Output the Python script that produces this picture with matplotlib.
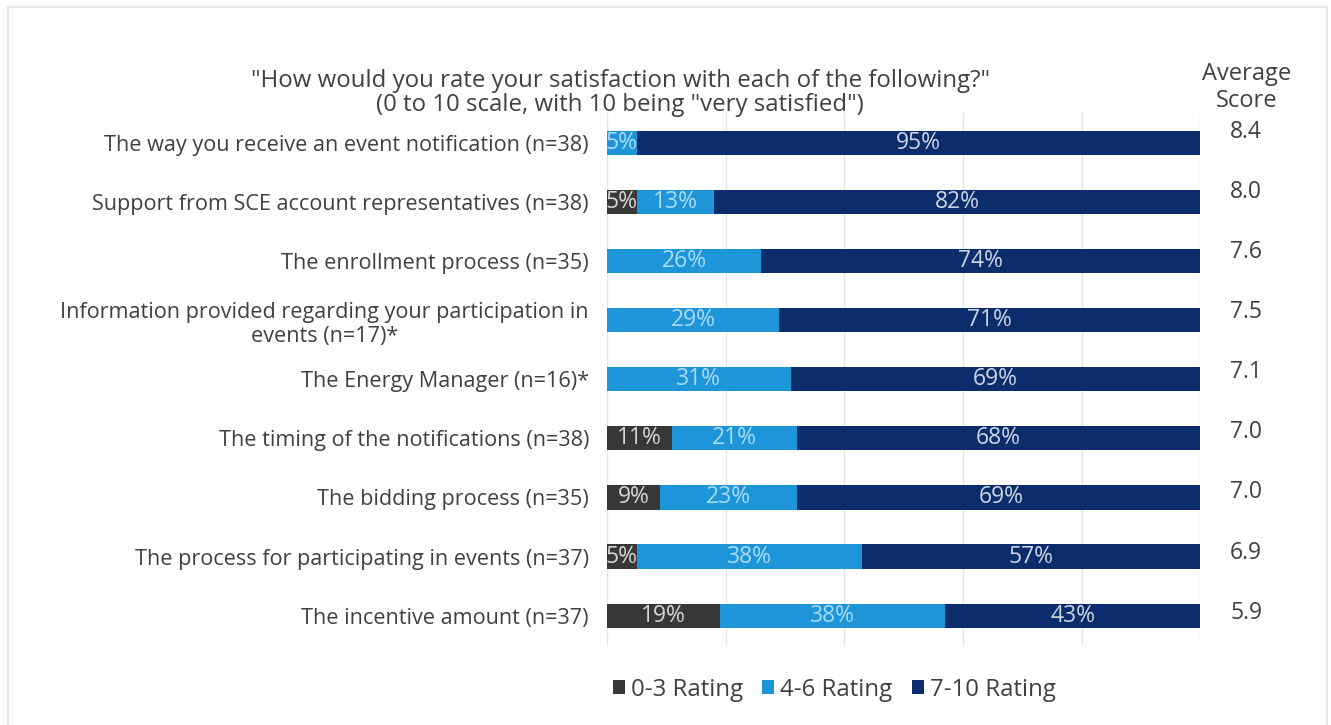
import matplotlib.pyplot as plt
from matplotlib.patches import Rectangle

# Survey items (top to bottom)
items = [
    "The way you receive an event notification (n=38)",
    "Support from SCE account representatives (n=38)",
    "The enrollment process (n=35)",
    "Information provided regarding your participation in\nevents (n=17)*",
    "The Energy Manager (n=16)*",
    "The timing of the notifications (n=38)",
    "The bidding process (n=35)",
    "The process for participating in events (n=37)",
    "The incentive amount (n=37)",
]

low = [0, 5, 0, 0, 0, 11, 9, 5, 19]       # 0-3 rating
mid = [5, 13, 26, 29, 31, 21, 23, 38, 38]  # 4-6 rating
high = [95, 82, 74, 71, 69, 68, 69, 57, 43]  # 7-10 rating
avg_score = [8.4, 8.0, 7.6, 7.5, 7.1, 7.0, 7.0, 6.9, 5.9]

series_names = ["0-3 Rating", "4-6 Rating", "7-10 Rating"]
colors = ["#383838", "#1d95d8", "#0c2d6b"]
label_colors = ["#d6d6d6", "#a9dcf5", "#cdd5e4"]
text_col = "#404040"

plt.rcParams['font.family'] = ['Open Sans', 'DejaVu Sans']

fig = plt.figure(figsize=(13.31, 7.25), dpi=100)
ax = fig.add_axes([0.456, 0.110, 0.4459, 0.734])

# light frame around the whole figure
fig.patches.append(Rectangle((0.006, -0.01), 0.991, 1.0, transform=fig.transFigure,
                             fill=False, edgecolor="#e6e6e6", lw=1.5))

ypos = list(range(len(items)))
left = [0] * len(items)
for vals, name, col, lcol in zip([low, mid, high], series_names, colors, label_colors):
    bars = ax.barh(ypos, vals, left=left, height=0.41, color=col, label=name, zorder=2)
    for b, v in zip(bars, vals):
        if v > 0:
            ax.text(b.get_x() + b.get_width() / 2, b.get_y() + b.get_height() / 2,
                    f"{v}%", ha="center", va="center", color=lcol, fontsize=16.5, zorder=3)
    left = [l + v for l, v in zip(left, vals)]

ax.set_xlim(0, 100)
ax.set_ylim(8.5, -0.5)
ax.set_xticks([0, 20, 40, 60, 80, 100])
ax.xaxis.grid(True, color="#e4e4e4", lw=1, zorder=0)
ax.set_axisbelow(True)
ax.tick_params(axis="x", length=0, labelbottom=False)
ax.tick_params(axis="y", length=0, pad=13)
ax.set_yticks(ypos)
ax.set_yticklabels(items, fontsize=15.6, color=text_col, ha="right",
                   multialignment="center", linespacing=1.2)
for s in ax.spines.values():
    s.set_visible(False)

# average score column
ax.text(107.7, -0.5, "Average\nScore", ha="center", va="bottom", fontsize=17,
        color=text_col, linespacing=1.2, clip_on=False)
for y, v in zip(ypos, avg_score):
    ax.text(107.7, y - 0.18 + 0.016 * y, f"{v:.1f}", ha="center", va="center", fontsize=16.5,
            color=text_col, clip_on=False)

fig.text(0.466, 0.838, '"How would you rate your satisfaction with each of the following?"\n'
         '(0 to 10 scale, with 10 being "very satisfied")',
         ha="center", va="bottom", fontsize=17.3, color=text_col, linespacing=1.05)

leg = ax.legend(loc="upper center", bbox_to_anchor=(0.383, -0.02), ncol=3, frameon=False,
                fontsize=17.3, handlelength=0.5, handleheight=0.5, handletextpad=0.25,
                columnspacing=0.8)
for t in leg.get_texts():
    t.set_color(text_col)

fig.savefig("out.png", dpi=100, facecolor="white")
